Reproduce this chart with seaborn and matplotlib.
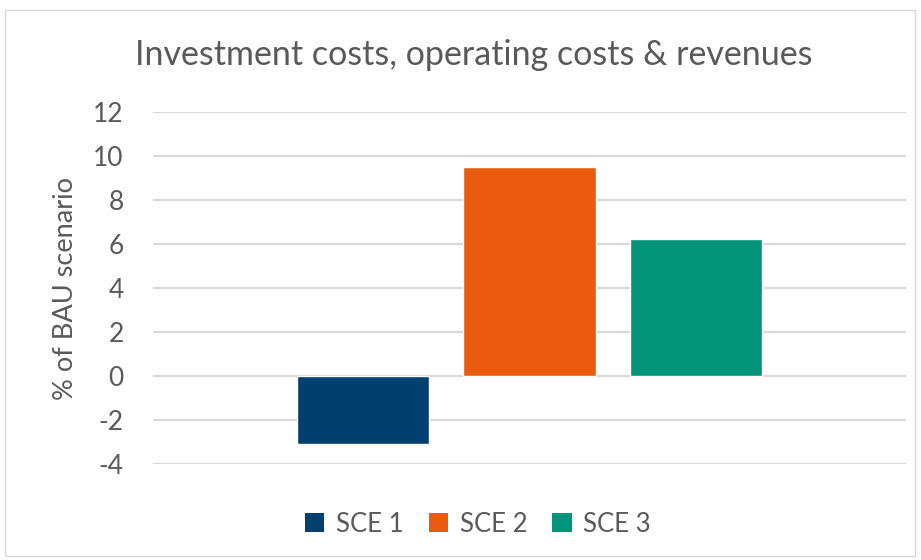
import pandas as pd
import seaborn as sns
import matplotlib.pyplot as plt
from matplotlib.patches import Rectangle, Patch

scenarios = ["SCE 1", "SCE 2", "SCE 3"]
values = [-3.08, 9.5, 6.22]
colors = ["#00406F", "#EA5B0F", "#00947A"]
yticks = [-4, -2, 0, 2, 4, 6, 8, 10, 12]

text_color = "#595959"
grid_color = "#D9D9D9"

sns.set_theme(style="white")
plt.rcParams['font.family'] = ['Lato', 'DejaVu Sans']

df = pd.DataFrame({"scenario": scenarios, "value": values})

fig = plt.figure(figsize=(9.21, 5.6), dpi=100)
ax = fig.add_axes([153 / 921, 1 - 464 / 560, 753 / 921, 352 / 560])

sns.barplot(data=df, x="scenario", y="value", hue="scenario",
            palette=colors, order=scenarios, hue_order=scenarios,
            width=0.793, legend=False, ax=ax, saturation=1)

ax.set_ylim(-4, 12)
ax.set_xlim(-1.26, 3.26)
ax.set_yticks(yticks)
ax.set_yticklabels([str(t) for t in yticks], fontsize=19, color=text_color)
ax.set_xticks([])
ax.set_xlabel("")
ax.set_ylabel("% of BAU scenario", fontsize=19.5, color=text_color, labelpad=11)
ax.tick_params(axis="y", length=0, pad=21)
ax.yaxis.grid(True, color=grid_color, linewidth=1.6)
ax.set_axisbelow(True)
for s in ax.spines.values():
    s.set_visible(False)

fig.text(474 / 921, 1 - 55 / 560, "Investment costs, operating costs & revenues",
         ha="center", va="center", fontsize=24.5, color=text_color)

handles = [Patch(facecolor=c, edgecolor="none") for c in colors]
fig.legend(handles, scenarios, loc="center", bbox_to_anchor=(478 / 921, 1 - 524 / 560),
           ncol=3, frameon=False, fontsize=18.5, labelcolor=text_color,
           handlelength=0.75, handleheight=0.75, handletextpad=0.45, columnspacing=0.98)

# chart border
fig.patches.append(Rectangle((5 / 921, 4 / 560), 910 / 921, 546 / 560,
                             transform=fig.transFigure, fill=False,
                             edgecolor="#D9D9D9", linewidth=1))

fig.savefig("out.png", dpi=100)
